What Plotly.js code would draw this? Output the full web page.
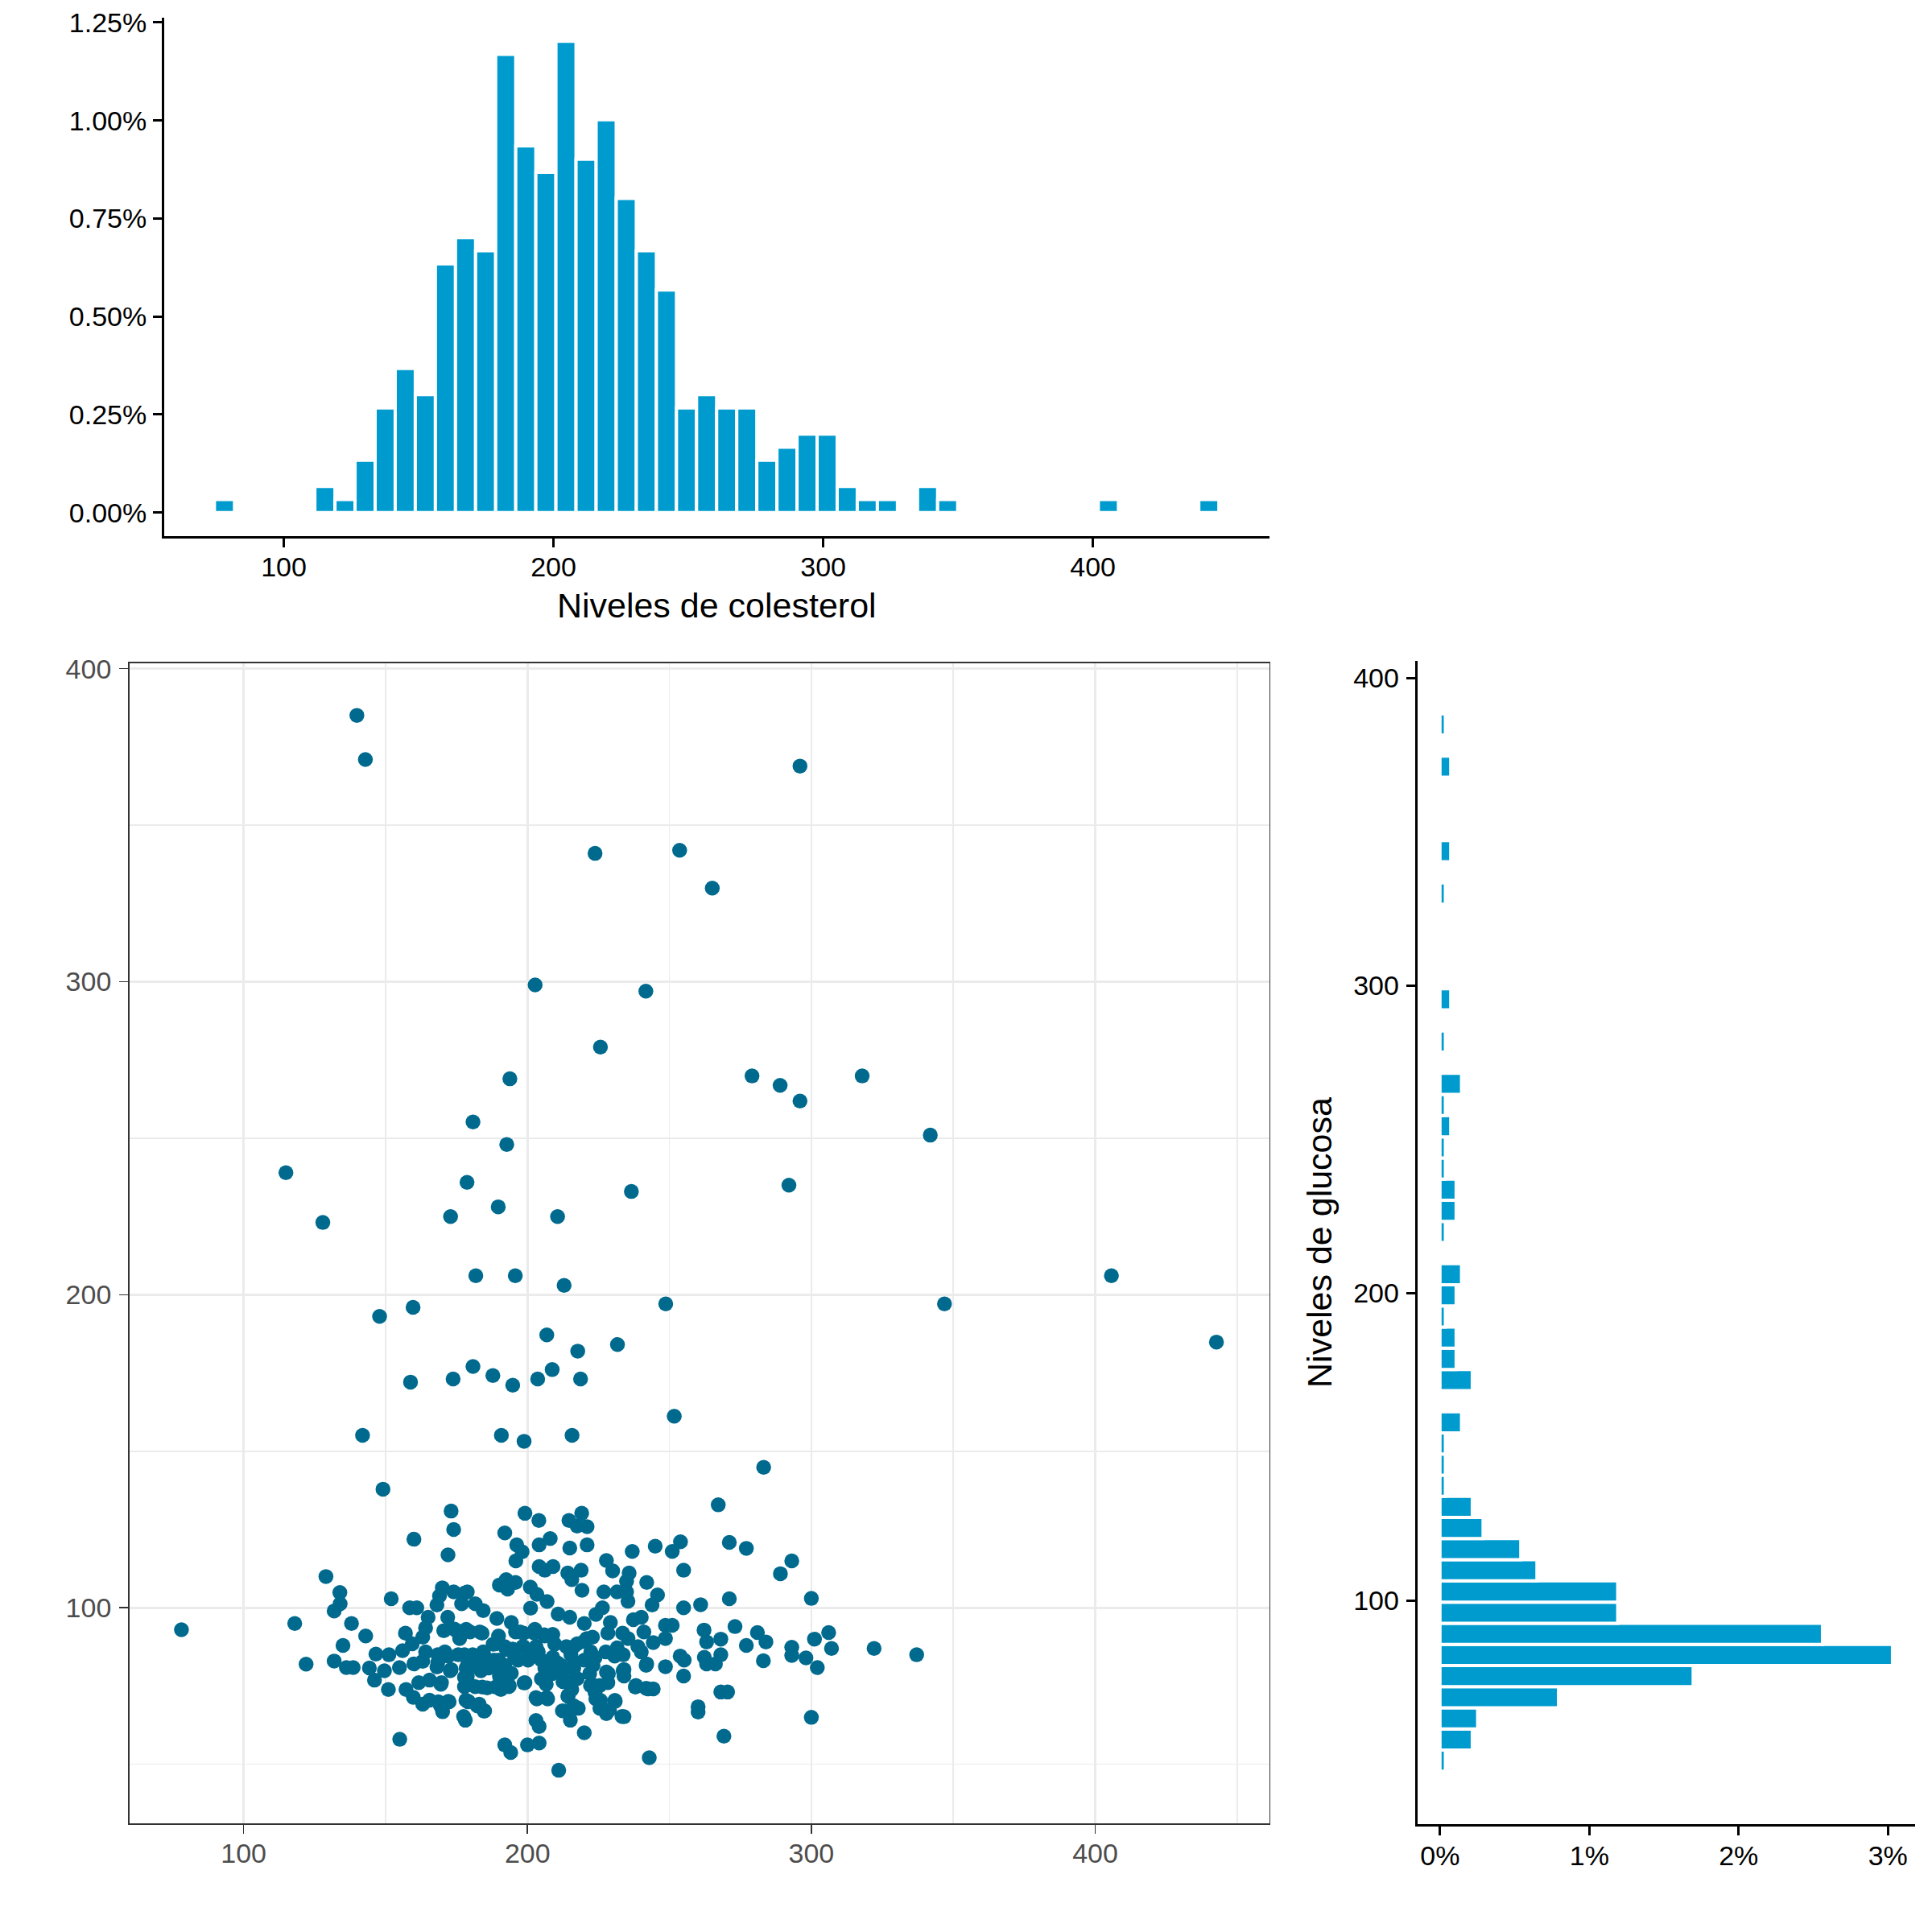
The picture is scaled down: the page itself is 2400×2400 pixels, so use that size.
<!DOCTYPE html>
<html>
<head>
<meta charset="utf-8">
<script src="https://cdn.plot.ly/plotly-3.0.1.min.js"></script>
<style>html,body{margin:0;padding:0;background:#fff;}#chart{width:2400px;height:2400px;}</style>
</head>
<body>
<div id="chart"></div>
<script>
// ---------- Histogram of cholesterol (50 bins, counts per bin) ----------
const cholBinFirstCenter = 78;
const cholBinWidth = 365 / 49;
const cholCounts = [1,0,0,0,0, 2,1,4,8,11, 9,19,21,20,35, 28,26,36,27,30, 24,20,17,8,9, 8,8,4,5,6, 6,2,1,1,0, 2,1,0,0,0, 0,0,0,0,1, 0,0,0,0,1];

// ---------- Histogram of glucose (50 bins, counts per bin) ----------
const gluBinFirstCenter = 48;
const gluBinWidth = 337 / 49;
const gluCounts = [1,6,7,22,47, 84,71,33,33,18, 15,8,6,1,1, 1,4,0,6,3, 3,1,3,4,0, 1,3,3,1,1, 2,1,4,0,1, 0,2,0,0,0, 0,1,0,2,0, 0,0,2,0,1];

// ---------- Scatter: [colesterol, glucosa] ----------
const upperPoints = [[139.9,385.1],[142.9,371.0],[296.0,368.9],[223.8,341.0],[253.6,342.0],[265.1,329.9],[202.7,299.0],[241.7,297.0],[225.7,279.1],[193.8,269.0],[279.1,269.9],[289.0,266.9],[296.0,261.9],[317.9,269.9],[180.8,255.2],[341.9,251.0],[192.7,248.0],[114.9,239.0],[178.7,235.9],[236.6,233.0],[292.1,235.0],[127.9,223.1],[172.9,225.0],[189.7,228.1],[210.6,225.0],[181.8,206.1],[195.7,206.1],[405.7,206.1],[212.9,203.0],[248.7,197.1],[346.9,197.1],[147.9,193.1],[159.7,196.0],[206.8,187.2],[217.7,182.0],[231.7,184.1],[442.7,184.9],[180.8,177.1],[208.7,176.1],[187.8,174.2],[158.8,172.1],[173.8,173.1],[194.8,171.1],[203.6,173.1],[218.7,173.1],[251.7,161.2],[141.9,155.1],[190.8,155.1],[198.8,153.2],[215.7,155.1],[283.2,144.9],[149.1,137.9],[267.2,132.9]];

const leftPoints = [[173.1,130.9],[174.0,125.0],[160.0,121.9],[172.0,116.9],[129.0,110.0],[133.9,104.9],[134.0,101.3],[131.9,99.0],[152.0,102.9],[158.5,100.0],[161.0,100.0],[118.0,95.0],[138.0,95.0],[143.0,91.0],[135.0,88.0],[122.0,82.0],[131.9,83.0],[136.2,80.9],[138.6,80.9],[78.1,93.0],[155.0,58.0],[146.6,85.2],[151.2,85.0],[144.3,80.8],[146.1,76.9],[149.6,79.9],[151.0,73.9],[156.0,86.3],[154.9,80.9],[157.0,91.9],[159.4,88.5],[157.2,73.9],[159.8,71.4],[160.0,82.1],[163.1,69.2],[161.7,76.1],[165.5,76.9],[169.7,76.1],[165.5,70.5],[169.3,68.8],[172.1,70.1],[170.1,66.8],[178.1,64.1],[165.0,97.0],[164.1,93.6],[163.1,90.6],[164.1,85.9],[163.1,82.9],[170.0,106.4],[169.0,103.8],[168.1,100.9],[174.0,105.1],[176.8,101.3],[171.9,97.0],[170.5,92.7],[174.3,93.2],[176.1,90.2],[168.4,85.0],[172.1,84.6],[168.4,82.5],[173.1,80.3],[177.8,77.8],[178.3,70.5],[177.8,104.7],[177.8,85.0]];

const centerPoints = [[192.0,123.9],[199.1,130.2],[204.0,127.9],[214.6,127.9],[219.1,130.2],[217.5,126.1],[221.0,125.9],[196.2,120.1],[198.1,117.9],[195.9,115.0],[204.1,120.1],[208.0,122.1],[214.9,119.1],[221.0,120.1],[236.9,118.0],[245.0,119.7],[251.0,118.0],[253.9,121.1],[255.0,112.0],[227.8,115.1],[230.0,111.8],[235.8,111.1],[234.9,108.5],[242.0,108.1],[226.9,105.1],[231.6,105.1],[234.9,105.1],[235.4,102.1],[245.8,104.1],[243.9,100.9],[255.0,100.0],[204.1,113.2],[209.0,113.2],[206.1,112.0],[214.2,111.1],[218.9,112.0],[215.6,109.0],[219.2,105.6],[190.1,107.3],[192.5,109.0],[195.8,108.1],[193.0,106.0],[201.0,106.6],[203.3,104.3],[206.9,102.0],[201.1,99.9],[178.8,105.1],[181.6,101.3],[184.4,99.1],[189.2,96.6],[194.3,95.3],[210.8,98.0],[214.9,97.0],[220.0,95.0],[224.1,97.9],[226.4,100.0],[229.2,95.3],[228.3,91.9],[237.3,96.2],[240.1,97.0],[241.0,92.3],[233.5,91.9],[235.4,90.2],[248.6,94.4],[251.0,94.4],[248.6,90.2],[244.3,88.9],[253.8,84.6],[255.2,83.3],[255.0,78.2],[248.6,81.2],[242.0,82.1],[240.1,85.9],[231.6,87.2],[230.7,84.6],[234.0,80.3],[234.0,78.2],[238.2,75.2],[242.5,74.1],[244.3,74.1],[227.8,79.5],[228.3,76.1],[225.5,75.2],[222.2,75.2],[223.1,81.6],[220.9,90.2],[222.3,85.9],[217.5,88.5],[213.7,87.6],[216.5,82.5],[211.8,81.6],[212.7,76.5],[217.5,77.4],[215.6,73.9],[214.2,71.8],[212.3,67.1],[217.9,67.9],[215.1,64.1],[224.1,70.9],[225.5,67.9],[227.8,66.2],[230.9,70.1],[234.0,65.2],[220.0,60.1],[242.9,52.1],[211.0,48.1],[192.0,56.2],[194.1,53.8],[200.0,56.2],[204.1,56.8],[204.1,62.1],[179.2,70.1],[183.0,69.2],[184.9,67.1],[199.1,76.1],[203.3,70.9],[207.1,70.9],[206.6,75.6],[206.1,80.8],[208.9,84.2],[203.8,85.9],[202.4,91.9],[206.1,91.0],[208.9,91.5],[198.6,91.9],[195.8,92.3],[184.0,91.9],[179.8,92.3],[175.0,92.7],[188.7,88.5],[192.0,87.6],[194.8,86.8],[198.6,87.6],[200.5,84.2],[196.7,83.3],[192.0,81.6],[188.2,83.3],[184.4,85.9],[180.7,85.0],[178.8,81.6],[182.5,81.2],[186.3,80.8],[178.8,78.2],[177.8,74.8],[181.6,74.8],[185.8,74.4],[190.6,73.9],[193.4,74.8],[190.1,78.2],[194.3,79.1]];

const densePoints = [[222.9,90.6],[178.4,93.1],[183.2,92.3],[172.8,93.6],[189.8,91.0],[197.4,92.3],[202.6,93.1],[205.9,91.4],[187.9,88.4],[192.6,86.7],[198.3,87.6],[203.0,87.6],[209.6,88.4],[216.3,87.6],[220.0,89.3],[170.9,85.9],[175.6,85.0],[180.3,84.1],[185.1,84.1],[189.8,83.3],[195.5,84.1],[200.2,83.3],[204.9,83.3],[210.6,82.4],[215.3,85.0],[220.0,83.3],[223.8,84.1],[227.6,85.9],[233.7,85.0],[238.9,87.6],[241.8,81.6],[172.8,79.9],[178.4,80.7],[183.6,79.9],[188.8,80.7],[192.6,79.0],[179.4,75.6],[184.1,74.7],[188.8,74.7],[193.6,75.1],[198.8,76.0],[204.9,77.3],[208.7,79.0],[212.5,76.4],[216.7,77.3],[216.3,80.7],[212.5,79.9],[221.9,79.0],[223.8,75.1],[228.5,79.0],[233.7,79.9],[238.0,74.7],[241.8,74.3],[168.1,81.1],[169.5,75.6],[168.6,70.0],[172.4,70.0],[179.0,70.0],[182.3,68.7],[184.7,67.0],[177.5,65.3],[203.0,71.3],[206.8,71.3],[214.4,72.1],[216.3,68.7],[213.5,67.0],[223.8,73.0],[225.7,70.4],[228.9,67.4],[230.8,70.4],[233.3,65.3],[203.0,64.0]];

const rightPoints = [[271.1,120.9],[277.1,119.0],[293.1,115.0],[289.1,110.9],[271.1,102.9],[300.0,103.0],[261.0,101.0],[262.2,92.9],[263.1,89.1],[268.1,90.0],[273.1,94.0],[281.0,92.1],[284.0,89.1],[277.1,88.0],[262.3,84.2],[268.1,85.0],[263.1,82.1],[266.2,82.1],[283.1,83.1],[293.1,87.4],[293.1,84.8],[298.1,84.0],[302.1,80.9],[301.1,90.0],[306.1,92.1],[307.1,87.0],[322.1,87.0],[337.1,85.0],[268.1,73.1],[270.5,73.1],[260.1,68.4],[260.1,66.7],[300.0,65.0],[269.2,59.0]];

const xTicks = [100, 200, 300, 400];
const gluTicks = [100, 200, 300, 400];
const cholPctTicks = [0, 0.0025, 0.005, 0.0075, 0.01, 0.0125];
const gluPctTicks = [0, 0.01, 0.02, 0.03];

// ---------- Derived ----------
const allPoints = upperPoints.concat(leftPoints, centerPoints, densePoints, rightPoints);
const scatterX = allPoints.map(p => p[0]);
const scatterY = allPoints.map(p => p[1]);

const cholN = cholCounts.reduce((a, b) => a + b, 0);
const gluN = gluCounts.reduce((a, b) => a + b, 0);
const cholCenters = cholCounts.map((c, i) => cholBinFirstCenter + i * cholBinWidth);
const cholDensity = cholCounts.map(c => c / (cholN * cholBinWidth));
const gluCenters = gluCounts.map((c, i) => gluBinFirstCenter + i * gluBinWidth);
const gluDensity = gluCounts.map(c => c / (gluN * gluBinWidth));

const BAR = '#009BCE';
const PT = '#006A8E';
const FONT = 'Liberation Sans, Arial, Helvetica, sans-serif';

const traces = [
  {type: 'bar', x: cholCenters, y: cholDensity, width: cholBinWidth, xaxis: 'x', yaxis: 'y',
   marker: {color: BAR, line: {color: 'white', width: 4}}, hoverinfo: 'skip'},
  {type: 'scatter', mode: 'markers', x: scatterX, y: scatterY, xaxis: 'x2', yaxis: 'y2',
   marker: {color: PT, size: 18.5, line: {width: 0}}, hoverinfo: 'skip'},
  {type: 'bar', orientation: 'h', y: gluCenters, x: gluDensity, width: gluBinWidth, xaxis: 'x3', yaxis: 'y3',
   marker: {color: BAR, line: {color: 'white', width: 4}}, hoverinfo: 'skip'}
];

const classicAxis = {
  showline: true, linecolor: 'black', linewidth: 3, ticks: 'outside', ticklen: 11, tickwidth: 3,
  tickcolor: 'black', showgrid: false, zeroline: false, automargin: false,
  tickfont: {family: FONT, size: 34, color: 'black'}
};
const bwAxis = {
  showline: true, mirror: true, linecolor: '#333333', linewidth: 1.6, ticks: 'outside', ticklen: 11,
  tickwidth: 1.6, tickcolor: '#333333', showgrid: true, gridcolor: '#EBEBEB', gridwidth: 2.6,
  zeroline: false, automargin: false, tickfont: {family: FONT, size: 34, color: '#4D4D4D'}
};

const layout = {
  width: 2400, height: 2400,
  margin: {l: 0, r: 0, t: 0, b: 0},
  paper_bgcolor: 'white', plot_bgcolor: 'white',
  showlegend: false, bargap: 0,
  font: {family: FONT, size: 34, color: 'black'},
  xaxis: Object.assign({}, classicAxis, {
    domain: [204 / 2400, 1576.5 / 2400], anchor: 'y', range: [55.66, 465.34], tickvals: xTicks,
    ticklabelstandoff: -5,
    title: {text: 'Niveles de colesterol', font: {family: FONT, size: 43, color: 'black'}, standoff: 16}
  }),
  yaxis: Object.assign({}, classicAxis, {
    domain: [1 - 666 / 2400, 1 - 22 / 2400], anchor: 'x', range: [-0.000601, 0.012623],
    tickvals: cholPctTicks, tickformat: '.2%', ticklabelstandoff: 1
  }),
  xaxis2: Object.assign({}, bwAxis, {
    domain: [160.7 / 2400, 1576.5 / 2400], anchor: 'y2', range: [59.75, 461.25], tickvals: xTicks,
    minor: {tickvals: [50, 150, 250, 350, 450], showgrid: true, gridcolor: '#EBEBEB', gridwidth: 1.4, ticks: ''},
    ticklabelstandoff: -4
  }),
  yaxis2: Object.assign({}, bwAxis, {
    domain: [1 - 2265 / 2400, 1 - 823.5 / 2400], anchor: 'x2', range: [31.15, 401.85], tickvals: gluTicks,
    minor: {tickvals: [50, 150, 250, 350], showgrid: true, gridcolor: '#EBEBEB', gridwidth: 1.4, ticks: ''},
    ticklabelstandoff: 3
  }),
  xaxis3: Object.assign({}, classicAxis, {
    domain: [1760.7 / 2400, 2379 / 2400], anchor: 'y3', range: [-0.001515, 0.03182],
    tickvals: gluPctTicks, tickformat: '.0%', ticklabelstandoff: -4
  }),
  yaxis3: Object.assign({}, classicAxis, {
    domain: [1 - 2266 / 2400, 1 - 821 / 2400], anchor: 'x3', range: [27.37, 405.63], tickvals: gluTicks,
    ticklabelstandoff: 2,
    title: {text: 'Niveles de glucosa', font: {family: FONT, size: 43, color: 'black'}, standoff: 14}
  })
};

Plotly.newPlot('chart', traces, layout, {displayModeBar: false, staticPlot: true});
</script>
</body>
</html>
